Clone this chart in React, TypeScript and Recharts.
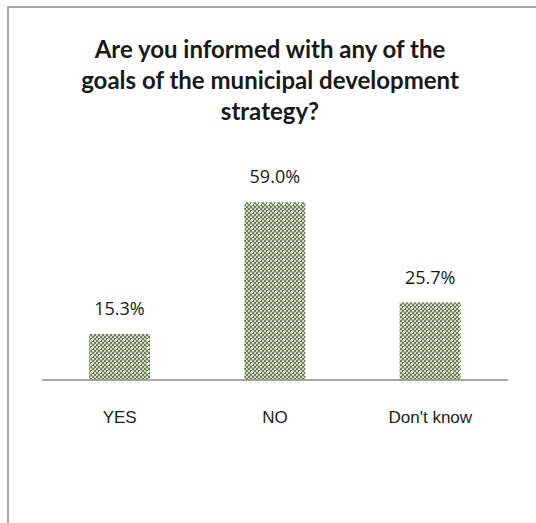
import { BarChart, Bar, XAxis, YAxis, LabelList } from "recharts";

const categories = ["YES", "NO", "Don't know"];
const shares = [15.3, 59.0, 25.7];
const titleLines = [
  "Are you informed with any of the",
  "goals of the municipal development",
  "strategy?",
];

const data = categories.map((name, i) => ({ name, value: shares[i] }));

export default function App() {
  return (
    <div
      style={{
        position: "absolute",
        left: 0,
        top: 0,
        width: 536,
        height: 523,
        background: "#fff",
        overflow: "hidden",
      }}
    >
      {/* frame: only the top and left edges show */}
      <div
        style={{
          position: "absolute",
          left: 7,
          top: 6,
          width: 600,
          height: 600,
          borderLeft: "2px solid #a6a6a6",
          borderTop: "2px solid #a6a6a6",
        }}
      />

      {/* title */}
      <div
        style={{
          position: "absolute",
          left: 0,
          top: 33,
          width: 540,
          textAlign: "center",
          fontFamily: "Lato, sans-serif",
          fontWeight: 700,
          fontSize: 24,
          lineHeight: "31px",
          color: "#1a1a1a",
        }}
      >
        {titleLines.map((t) => (
          <div key={t}>{t}</div>
        ))}
      </div>

      <div style={{ position: "absolute", left: 0, top: 0 }}>
        <BarChart
          width={536}
          height={523}
          data={data}
          margin={{ top: 169, right: 28, bottom: 103, left: 42 }}
        >
          <defs>
            <pattern id="dots" width="8" height="8" patternUnits="userSpaceOnUse">
              <rect width="8" height="8" fill="#cfd6c2" />
              <rect x="0" y="0" width="2" height="2" fill="#71825b" />
              <rect x="2" y="2" width="2" height="2" fill="#71825b" />
              <rect x="4" y="0" width="2" height="2" fill="#71825b" />
              <rect x="6" y="2" width="2" height="2" fill="#71825b" />
              <rect x="0" y="4" width="2" height="2" fill="#71825b" />
              <rect x="2" y="6" width="2" height="2" fill="#71825b" />
              <rect x="4" y="4" width="2" height="2" fill="#71825b" />
              <rect x="6" y="6" width="2" height="2" fill="#71825b" />
              <rect x="3" y="3" width="2" height="2" fill="#ffffff" />
            </pattern>
          </defs>
          <XAxis
            dataKey="name"
            height={40}
            tickLine={false}
            axisLine={{ stroke: "#8c8c8c", strokeWidth: 1.5 }}
            tick={{ fill: "#222", fontSize: 17, fontFamily: "Liberation Sans, Arial, sans-serif" }}
            tickMargin={25}
            interval={0}
          />
          <YAxis hide domain={[0, 70]} />
          <Bar dataKey="value" fill="url(#dots)" barSize={61} isAnimationActive={false}>
            <LabelList
              dataKey="value"
              position="top"
              offset={19}
              formatter={(v: number) => `${v.toFixed(1)}%`}
              style={{ fill: "#1a1a1a", fontSize: 18, fontFamily: "Open Sans, sans-serif" }}
            />
          </Bar>
        </BarChart>
      </div>
    </div>
  );
}
